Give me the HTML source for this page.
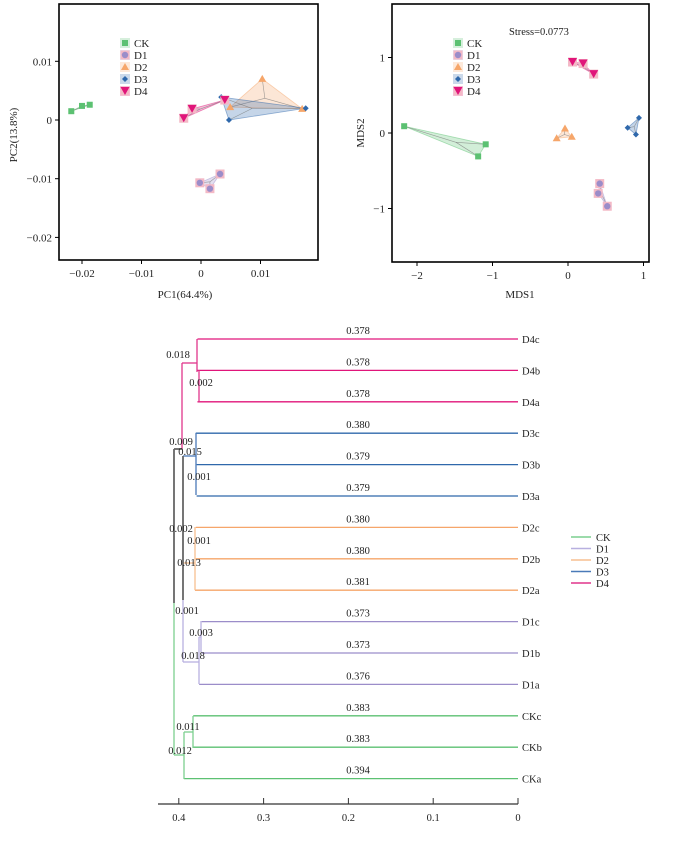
<!DOCTYPE html>
<html><head><meta charset="utf-8"><style>
body{margin:0;background:#fff;}
svg{display:block;font-family:"Liberation Serif",serif;}
</style></head><body>
<svg id="s" width="684" height="846" viewBox="0 0 684 846"></svg>
<script>
const groups=["CK","D1","D2","D3","D4"];
const colors=["#5cc172","#9b8dc9","#f6a66a","#2f68ab","#e0157a"];
const pcaX=[[-0.0218,-0.0200,-0.0187],[-0.0002,0.0015,0.0032],[0.0103,0.0049,0.0170],[0.0034,0.0047,0.0176],[-0.0029,-0.0015,0.0040]];
const pcaY=[[0.0015,0.0024,0.0026],[-0.0107,-0.0117,-0.0092],[0.0070,0.0022,0.0019],[0.0039,0.0000,0.0020],[0.0003,0.0019,0.0034]];
const pcaXTicks=[-0.02,-0.01,0,0.01];
const pcaYTicks=[0.01,0,-0.01,-0.02];
const mdsX=[[-2.17,-1.09,-1.19],[0.42,0.40,0.52],[-0.04,-0.15,0.05],[0.79,0.94,0.90],[0.06,0.20,0.34]];
const mdsY=[[0.09,-0.15,-0.31],[-0.67,-0.80,-0.97],[0.06,-0.07,-0.05],[0.07,0.20,-0.02],[0.94,0.92,0.78]];
const mdsTicks=[-2,-1,0,1];
const mdsYTicks=[1,0,-1];
const leaves=["D4c","D4b","D4a","D3c","D3b","D3a","D2c","D2b","D2a","D1c","D1b","D1a","CKc","CKb","CKa"];
const leafH=[0.378,0.378,0.378,0.380,0.379,0.379,0.380,0.380,0.381,0.373,0.373,0.376,0.383,0.383,0.394];
const leafGroup=[4,4,4,3,3,3,2,2,2,1,1,1,0,0,0];
const dTicks=[0.4,0.3,0.2,0.1,0];

const S=document.getElementById('s');const NS="http://www.w3.org/2000/svg";
function el(t,a,p){const e=document.createElementNS(NS,t);for(const k in a)e.setAttribute(k,a[k]);(p||S).appendChild(e);return e;}
function txt(x,y,s,size,anchor,name,p){const t=el('text',{x:x,y:y,'font-size':size,'text-anchor':anchor||'start',fill:'#222'},p);t.textContent=s;

return t;}
function marker(g,x,y,parent){
 const c=colors[g];let m;
 if(g==1||g==4){el('rect',{x:x-4.5,y:y-4.5,width:9,height:9,fill:'#f3b9c6'},parent);}
 if(g==0)m=el('rect',{x:x-3,y:y-3,width:6,height:6,fill:c},parent);
 else if(g==1)m=el('circle',{cx:x,cy:y,r:3.2,fill:c},parent);
 else if(g==2)m=el('polygon',{points:`${x},${y-4} ${x-4},${y+3} ${x+4},${y+3}`,fill:c},parent);
 else if(g==3)m=el('polygon',{points:`${x},${y-3} ${x+3},${y} ${x},${y+3} ${x-3},${y}`,fill:c},parent);
 else m=el('polygon',{points:`${x-4.5},${y-4} ${x+4.5},${y-4} ${x},${y+4}`,fill:c},parent);
 
 
}
function scatter(name,box,sx,sy,X,Y,xt,yt,xl,yl,xfmt,legX,legY){
 const G=el('g',{});
 
 
 for(let g=0;g<5;g++){
  const pts=X[g].map((v,i)=>[sx(v),sy(Y[g][i])]);
  const cx=pts.reduce((a,p)=>a+p[0],0)/3,cy=pts.reduce((a,p)=>a+p[1],0)/3;
  const h=el('polygon',{points:pts.map(p=>p.join(',')).join(' '),fill:colors[g],'fill-opacity':0.28,stroke:colors[g],'stroke-opacity':0.5,'stroke-width':0.8},G);
  
  
  pts.forEach(p=>el('line',{x1:cx,y1:cy,x2:p[0],y2:p[1],stroke:'#777','stroke-width':0.6,'stroke-opacity':0.7},G));
 }
 for(let g=0;g<5;g++)X[g].forEach((v,i)=>marker(g,sx(v),sy(Y[g][i]),G));
 const r=el('rect',{x:box[0],y:box[1],width:box[2]-box[0],height:box[3]-box[1],fill:'none',stroke:'#000','stroke-width':1.6},G);
 
 
 xt.forEach(v=>{const x=sx(v);el('line',{x1:x,y1:box[3],x2:x,y2:box[3]+4,stroke:'#000'},G);txt(x,box[3]+17,xfmt(v),11,'middle','x-tick-label',G);});
 yt.forEach(v=>{const y=sy(v);el('line',{x1:box[0]-4,y1:y,x2:box[0],y2:y,stroke:'#000'},G);txt(box[0]-7,y+4,xfmt(v),11,'end','y-tick-label',G);});
 txt(xl[0],xl[1],xl[2],11,'middle','x-axis-title',G);
 const t=txt(yl[0],yl[1],yl[2],11,'middle','y-axis-title',G);t.setAttribute('transform',`rotate(-90 ${yl[0]} ${yl[1]})`);
 groups.forEach((gname,g)=>{const y=legY+g*12;
  const lr=el('rect',{x:legX-5,y:y-5,width:10,height:10,fill:colors[g],'fill-opacity':0.25},G);
  
  
  marker(g,legX,y,G);txt(legX+9,y+4,gname,11,'start','legend-entry',G);});
 return G;
}
const fmt=v=>v<0?'\u2212'+Math.abs(v):String(v);
scatter('pca-plot',[59,4,318,260],v=>201+v*5950,v=>120-v*5870,pcaX,pcaY,pcaXTicks,pcaYTicks,[185,298,'PC1(64.4%)'],[17,135,'PC2(13.8%)'],fmt,125,43);
const g2=scatter('nmds-plot',[392,4,649,262],v=>568+v*75.5,v=>133-v*75.5,mdsX,mdsY,mdsTicks,mdsYTicks,[520,298,'MDS1'],[364,133,'MDS2'],fmt,458,43);
txt(509,35,'Stress=0.0773',10.5,'start','stress-label',g2);

const D=el('g',{});


const dx=v=>518-v*848, ly=i=>339+i*31.4;
leaves.forEach((n,i)=>{const y=ly(i),x=dx(leafH[i]);
 const l=el('line',{x1:x,y1:y,x2:518,y2:y,stroke:colors[leafGroup[i]],'stroke-width':1.3},D);
 
 
 txt(358,y-5,leafH[i].toFixed(3),10.5,'middle','branch-length',D);
 txt(522,y+4,n,10.5,'start','leaf-label',D);});
const segs=[
 ['#e0358c',199,370,199,402],['#e0358c',197,339,197,372],['#e0358c',182,363,197,363],['#e0358c',182,363,182,449],
 ['#4a7ab8',196,433,196,495],['#4a7ab8',183,456,196,456],
 ['#f7bf90',195,527,195,590],['#f7bf90',183,563,195,563],
 ['#666',174,449,182,449],['#666',174,449,174,603],['#666',183,456,183,600],
 ['#b8b0e0',201,621,201,652],['#b8b0e0',199,637,201,637],['#b8b0e0',199,637,199,684],['#b8b0e0',183,600,183,662],['#b8b0e0',183,662,199,662],
 ['#7ccf8f',174,603,174,755],['#7ccf8f',174,755,184,755],['#7ccf8f',184,732,184,779],['#7ccf8f',184,732,193,732],['#7ccf8f',193,716,193,748]];
segs.forEach(s=>el('line',{x1:s[1],y1:s[2],x2:s[3],y2:s[4],stroke:s[0],'stroke-width':s[0]=='#666'?1.8:1.3},D));
const nl=[['0.018',178,358],['0.002',201,386],['0.009',181,445],['0.015',190,455],['0.001',199,480],['0.002',181,532],['0.001',199,544],['0.013',189,566],['0.001',187,614],['0.003',201,636],['0.018',193,659],['0.011',188,730],['0.012',180,754]];
nl.forEach(n=>txt(n[1],n[2],n[0],10.5,'middle','node-height',D));
el('line',{x1:158,y1:804,x2:518,y2:804,stroke:'#333','stroke-width':1.2},D);
dTicks.forEach(v=>{const x=dx(v);el('line',{x1:x,y1:798,x2:x,y2:804,stroke:'#333'},D);txt(x,821,String(v),10.5,'middle','dendrogram-tick',D);});
groups.forEach((g,i)=>{const y=537+i*11.5;
 const l=el('line',{x1:571,y1:y,x2:591,y2:y,stroke:['#7ccf8f','#b8b0e0','#f7bf90','#4a7ab8','#e0358c'][i],'stroke-width':1.6},D);
 
 
 txt(596,y+4,g,10.5,'start','legend-entry',D);});
</script>
</body></html>
